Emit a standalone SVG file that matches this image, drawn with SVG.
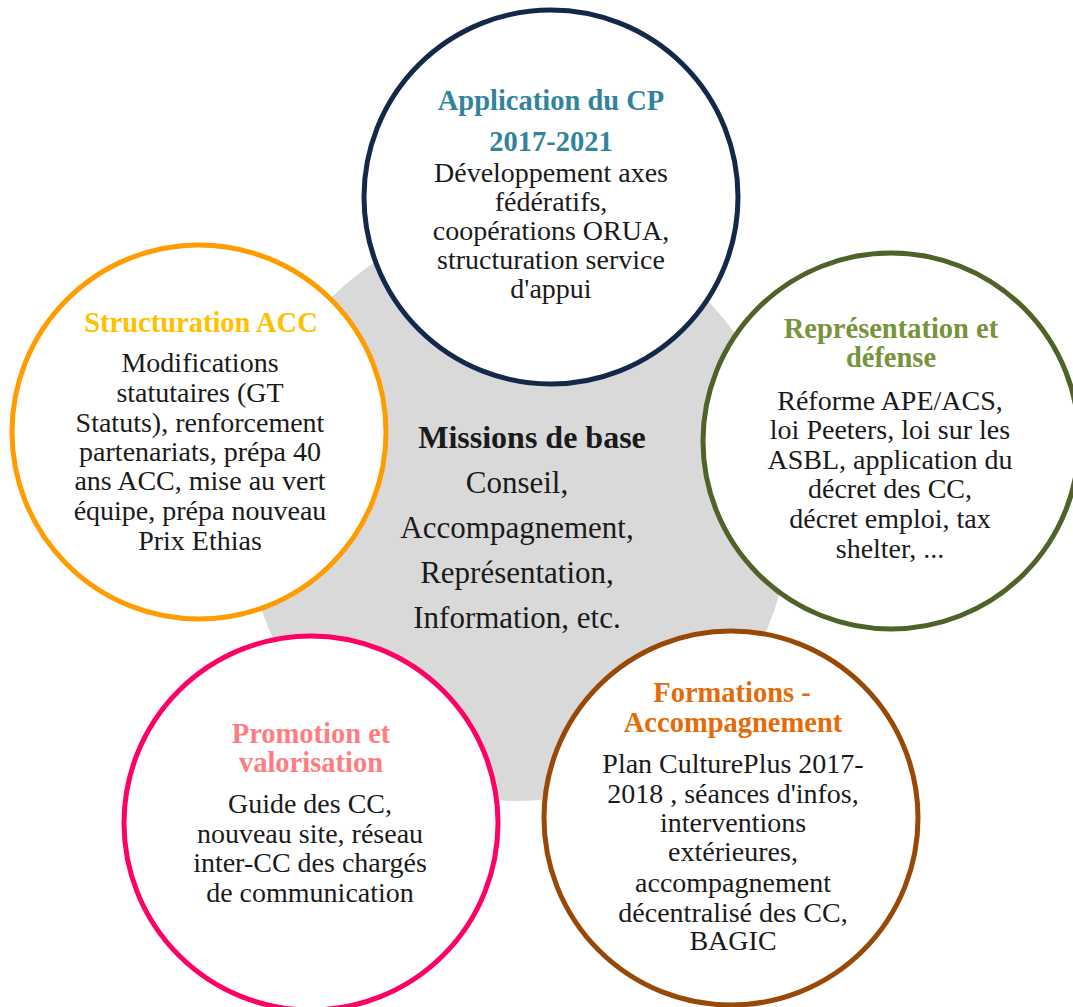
<svg xmlns="http://www.w3.org/2000/svg" width="1073" height="1007" viewBox="0 0 1073 1007">
<style>
  .ring { fill: #ffffff; stroke-width: 5; }
  .t { font-family: "Liberation Serif", "Times New Roman", serif; text-anchor: middle; }
  .body { font-size: 28px; fill: #1a1a1a; }
  .head { font-size: 28.5px; font-weight: bold; }
  .cbody { font-size: 31px; fill: #1a1a1a; }
  .chead { font-size: 32px; font-weight: bold; fill: #1a1a1a; }
</style>
<rect x="0" y="0" width="1073" height="1007" fill="#ffffff"/>
<g id="center">
  <ellipse cx="518" cy="510" rx="273" ry="291" fill="#d9d9d9"/>
  <text class="t chead" x="532" y="448">Missions de base</text>
  <text class="t cbody" x="517" y="493">Conseil,</text>
  <text class="t cbody" x="517" y="538">Accompagnement,</text>
  <text class="t cbody" x="517" y="583">Représentation,</text>
  <text class="t cbody" x="517" y="628">Information, etc.</text>
</g>
<g id="connectors"/>
<g id="node-cp">
  <circle class="ring" cx="551" cy="197" r="187" stroke="#14284b"/>
  <text class="t head" x="551" y="110" fill="#31849b">Application du CP</text>
  <text class="t head" x="551" y="151" fill="#31849b">2017-2021</text>
  <text class="t body" x="551" y="182">Développement axes</text>
  <text class="t body" x="551" y="211">fédératifs,</text>
  <text class="t body" x="551" y="240">coopérations ORUA,</text>
  <text class="t body" x="551" y="269">structuration service</text>
  <text class="t body" x="551" y="298">d'appui</text>
</g>
<g id="node-acc">
  <circle class="ring" cx="199" cy="432" r="187" stroke="#ff9c00"/>
  <text class="t head" x="201" y="332" fill="#ffc000">Structuration ACC</text>
  <text class="t body" x="200" y="372">Modifications</text>
  <text class="t body" x="200" y="402">statutaires (GT</text>
  <text class="t body" x="200" y="432">Statuts), renforcement</text>
  <text class="t body" x="200" y="461">partenariats, prépa 40</text>
  <text class="t body" x="200" y="490">ans ACC, mise au vert</text>
  <text class="t body" x="200" y="520">équipe, prépa nouveau</text>
  <text class="t body" x="200" y="550">Prix Ethias</text>
</g>
<g id="node-rep">
  <circle class="ring" cx="891" cy="441" r="188" stroke="#4f6228"/>
  <text class="t head" x="891" y="338" fill="#77933c">Représentation et</text>
  <text class="t head" x="891" y="367" fill="#77933c">défense</text>
  <text class="t body" x="890" y="410">Réforme APE/ACS,</text>
  <text class="t body" x="890" y="439">loi Peeters, loi sur les</text>
  <text class="t body" x="890" y="469">ASBL, application du</text>
  <text class="t body" x="890" y="498">décret des CC,</text>
  <text class="t body" x="890" y="528">décret emploi, tax</text>
  <text class="t body" x="890" y="558">shelter, ...</text>
</g>
<g id="node-form">
  <circle class="ring" cx="731" cy="818" r="187" stroke="#984807"/>
  <text class="t head" x="732" y="702" fill="#e36c09">Formations -</text>
  <text class="t head" x="733" y="732" fill="#e36c09">Accompagnement</text>
  <text class="t body" x="733" y="773">Plan CulturePlus 2017-</text>
  <text class="t body" x="733" y="803">2018 , séances d'infos,</text>
  <text class="t body" x="733" y="832">interventions</text>
  <text class="t body" x="733" y="861">extérieures,</text>
  <text class="t body" x="733" y="892">accompagnement</text>
  <text class="t body" x="733" y="922">décentralisé des CC,</text>
  <text class="t body" x="733" y="950">BAGIC</text>
</g>
<g id="node-promo">
  <circle class="ring" cx="311" cy="823" r="187" stroke="#ff0066"/>
  <text class="t head" x="311" y="743" fill="#ff7c80">Promotion et</text>
  <text class="t head" x="311" y="772" fill="#ff7c80">valorisation</text>
  <text class="t body" x="310" y="813">Guide des CC,</text>
  <text class="t body" x="310" y="843">nouveau site, réseau</text>
  <text class="t body" x="310" y="872">inter-CC des chargés</text>
  <text class="t body" x="310" y="902">de communication</text>
</g>
</svg>
